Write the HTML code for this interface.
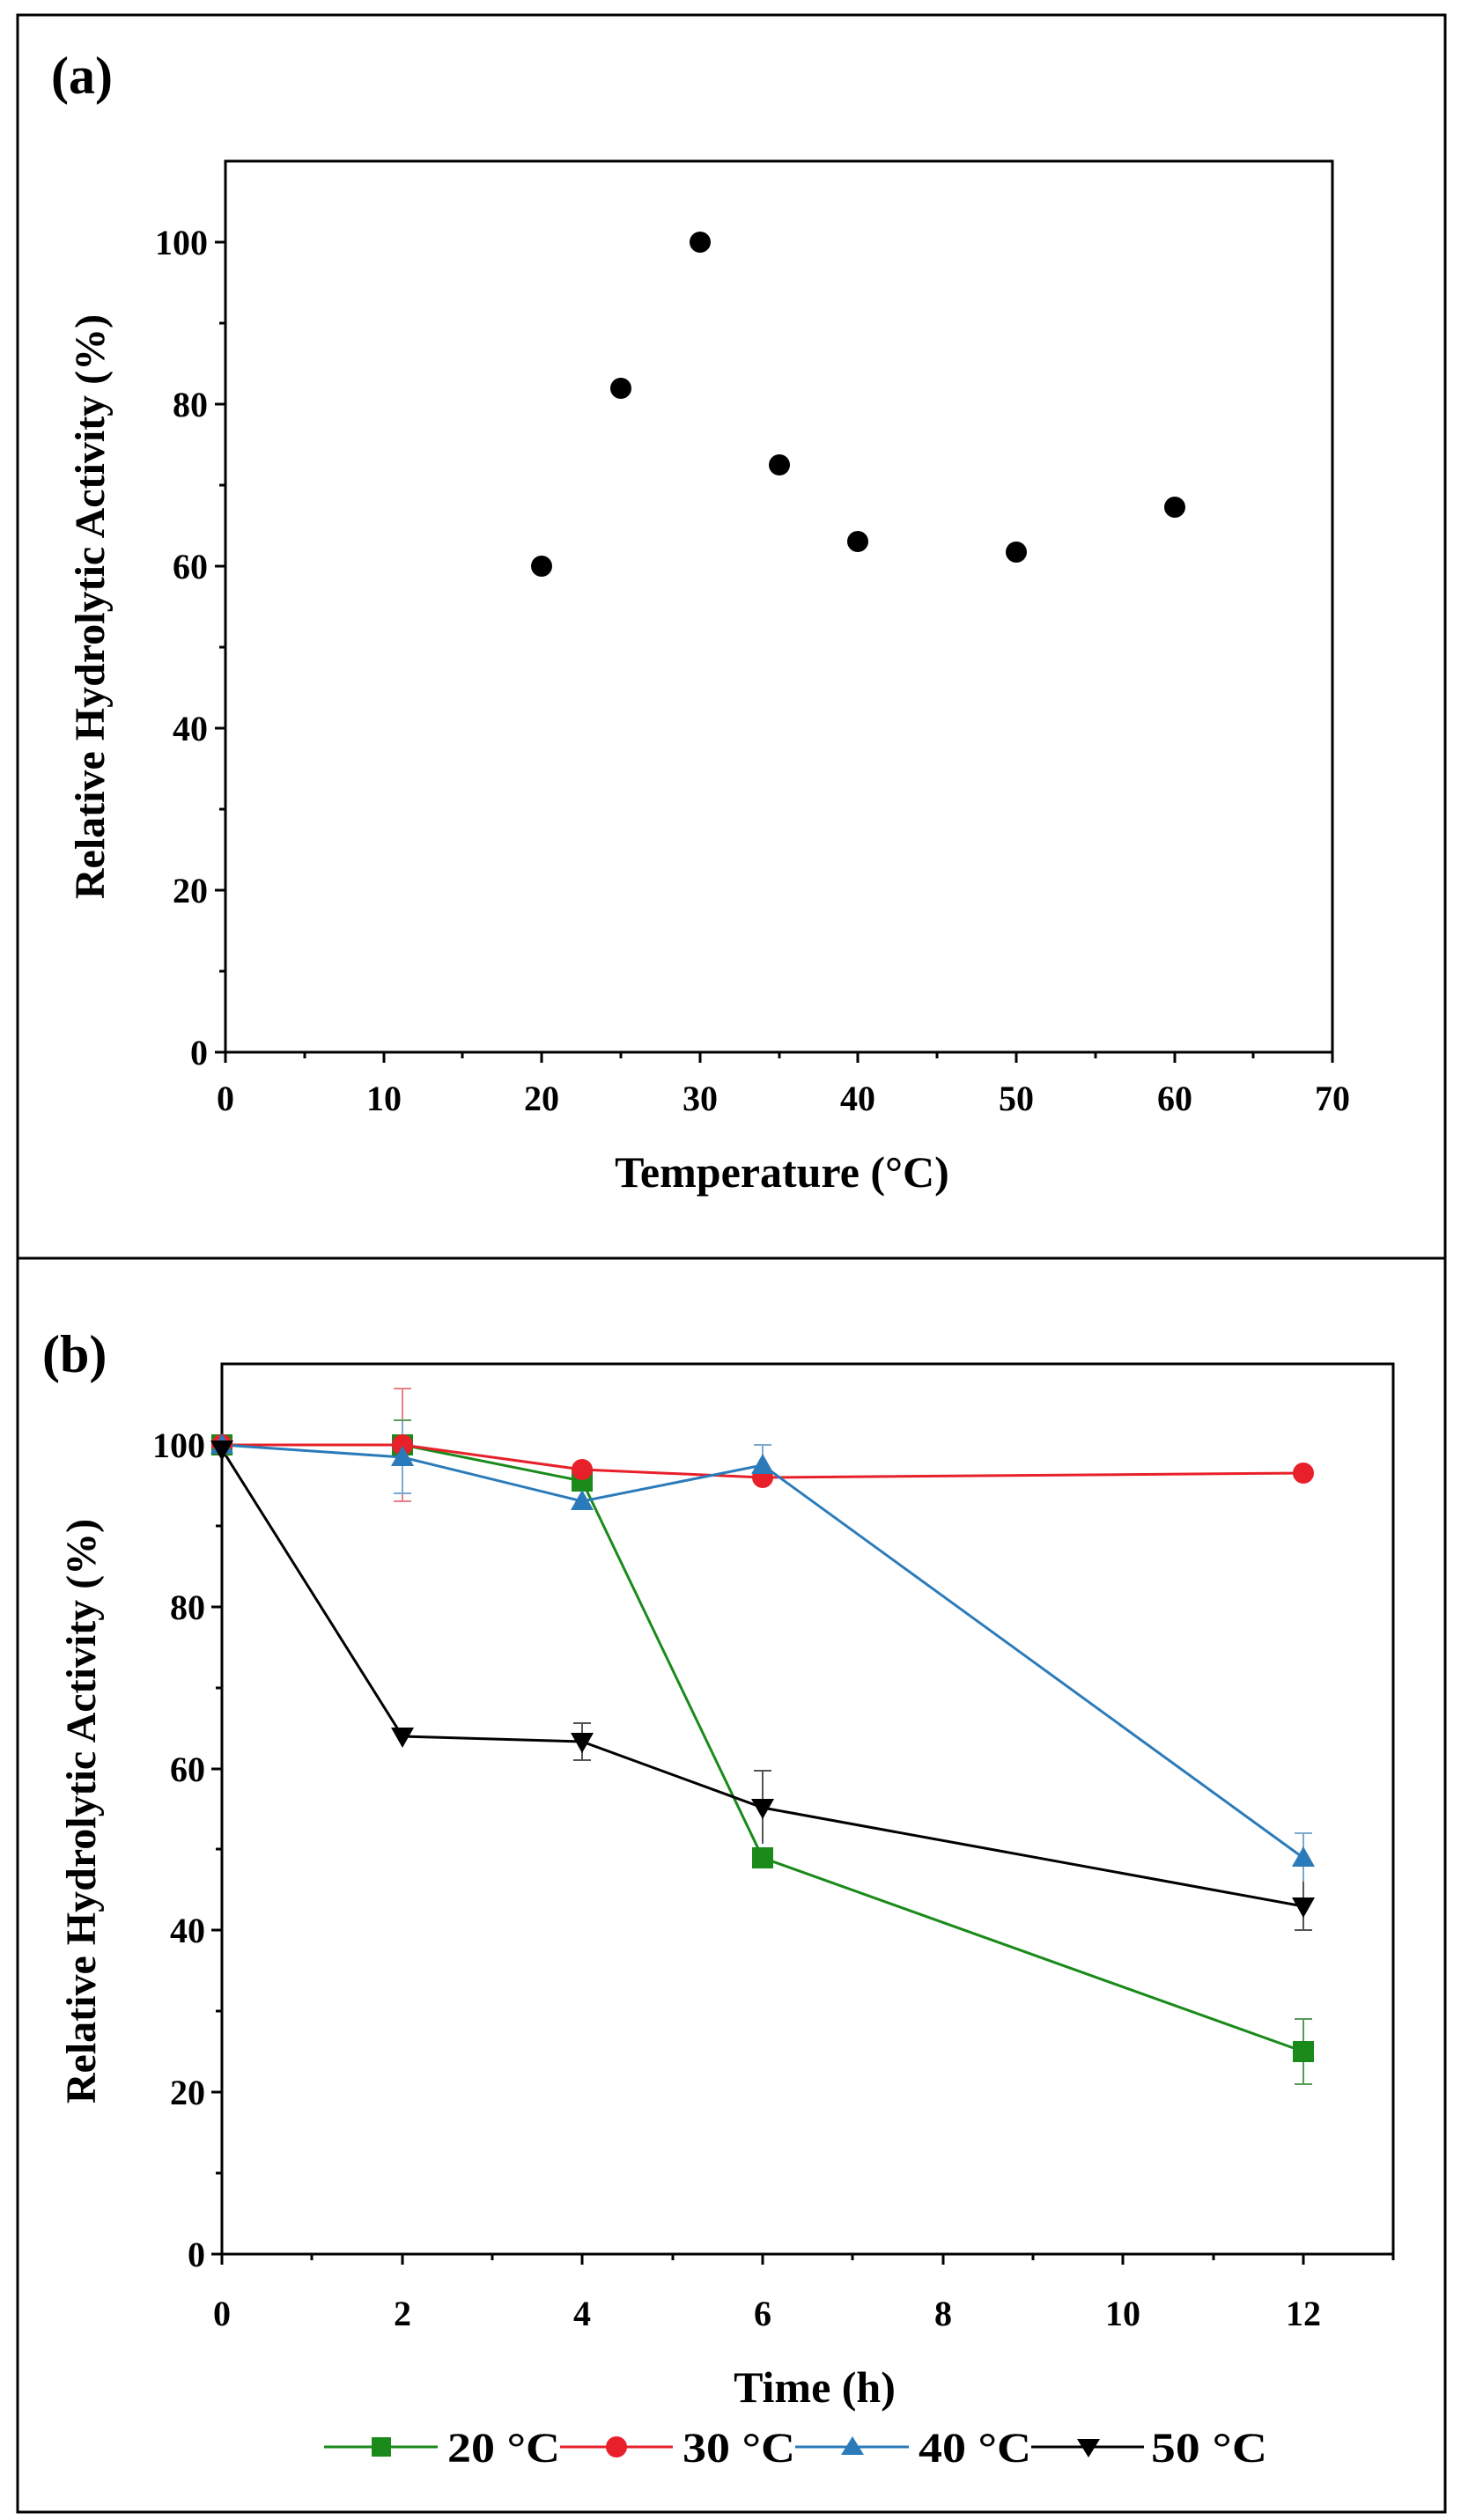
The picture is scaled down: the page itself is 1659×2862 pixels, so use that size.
<!DOCTYPE html>
<html><head><meta charset="utf-8"><style>
html,body{margin:0;padding:0;background:#fff;}
svg{display:block;}
text{font-family:"Liberation Serif",serif;font-weight:bold;fill:#000;}
</style></head><body>
<svg width="1659" height="2862" viewBox="0 0 1659 2862" xmlns="http://www.w3.org/2000/svg">
<rect x="0" y="0" width="1659" height="2862" fill="#fff"/>
<rect x="20" y="17" width="1621" height="2836" fill="none" stroke="#000" stroke-width="3"/>
<line x1="20" y1="1429" x2="1641" y2="1429" stroke="#000" stroke-width="3"/>

<!-- Panel a -->
<text x="58" y="106" font-size="60">(a)</text>
<rect x="256" y="183" width="1257" height="1012" fill="none" stroke="#000" stroke-width="3"/>
<g stroke="#000" stroke-width="3">
<line x1="256" y1="1195" x2="244" y2="1195"/><line x1="256" y1="1103" x2="249" y2="1103"/>
<line x1="256" y1="1011" x2="244" y2="1011"/><line x1="256" y1="919" x2="249" y2="919"/>
<line x1="256" y1="827" x2="244" y2="827"/><line x1="256" y1="735" x2="249" y2="735"/>
<line x1="256" y1="643" x2="244" y2="643"/><line x1="256" y1="551" x2="249" y2="551"/>
<line x1="256" y1="459" x2="244" y2="459"/><line x1="256" y1="367" x2="249" y2="367"/>
<line x1="256" y1="275" x2="244" y2="275"/>
<line x1="256" y1="1195" x2="256" y2="1207"/><line x1="346" y1="1195" x2="346" y2="1202"/>
<line x1="436" y1="1195" x2="436" y2="1207"/><line x1="525" y1="1195" x2="525" y2="1202"/>
<line x1="615" y1="1195" x2="615" y2="1207"/><line x1="705" y1="1195" x2="705" y2="1202"/>
<line x1="795" y1="1195" x2="795" y2="1207"/><line x1="885" y1="1195" x2="885" y2="1202"/>
<line x1="974" y1="1195" x2="974" y2="1207"/><line x1="1064" y1="1195" x2="1064" y2="1202"/>
<line x1="1154" y1="1195" x2="1154" y2="1207"/><line x1="1244" y1="1195" x2="1244" y2="1202"/>
<line x1="1334" y1="1195" x2="1334" y2="1207"/><line x1="1423" y1="1195" x2="1423" y2="1202"/>
<line x1="1513" y1="1195" x2="1513" y2="1207"/>
</g>
<g font-size="40" text-anchor="end">
<text x="236" y="1209">0</text><text x="236" y="1025">20</text><text x="236" y="841">40</text>
<text x="236" y="657">60</text><text x="236" y="473">80</text><text x="236" y="289">100</text>
</g>
<g font-size="40" text-anchor="middle">
<text x="256" y="1261">0</text><text x="436" y="1261">10</text><text x="615" y="1261">20</text>
<text x="795" y="1261">30</text><text x="974" y="1261">40</text><text x="1154" y="1261">50</text>
<text x="1334" y="1261">60</text><text x="1513" y="1261">70</text>
</g>
<text x="888" y="1348" font-size="50" text-anchor="middle">Temperature (°C)</text>
<text transform="translate(118,689) rotate(-90)" font-size="48" text-anchor="middle">Relative Hydrolytic Activity (%)</text>
<g fill="#000">
<circle cx="615" cy="643" r="12"/><circle cx="705" cy="441" r="12"/><circle cx="795" cy="275" r="12"/>
<circle cx="885" cy="528" r="12"/><circle cx="974" cy="615" r="12"/><circle cx="1154" cy="627" r="12"/>
<circle cx="1334" cy="576" r="12"/>
</g>

<!-- Panel b -->
<text x="48" y="1558" font-size="60">(b)</text>
<rect x="252" y="1549" width="1330" height="1011" fill="none" stroke="#000" stroke-width="3"/>
<g transform="translate(0,2)">
<g stroke="#000" stroke-width="3">
<line x1="252" y1="2558" x2="240" y2="2558"/><line x1="252" y1="2466" x2="245" y2="2466"/>
<line x1="252" y1="2374" x2="240" y2="2374"/><line x1="252" y1="2282" x2="245" y2="2282"/>
<line x1="252" y1="2190" x2="240" y2="2190"/><line x1="252" y1="2098" x2="245" y2="2098"/>
<line x1="252" y1="2007" x2="240" y2="2007"/><line x1="252" y1="1915" x2="245" y2="1915"/>
<line x1="252" y1="1823" x2="240" y2="1823"/><line x1="252" y1="1731" x2="245" y2="1731"/>
<line x1="252" y1="1639" x2="240" y2="1639"/>
<line x1="252" y1="2558" x2="252" y2="2570"/><line x1="354" y1="2558" x2="354" y2="2565"/>
<line x1="457" y1="2558" x2="457" y2="2570"/><line x1="559" y1="2558" x2="559" y2="2565"/>
<line x1="661" y1="2558" x2="661" y2="2570"/><line x1="764" y1="2558" x2="764" y2="2565"/>
<line x1="866" y1="2558" x2="866" y2="2570"/><line x1="968" y1="2558" x2="968" y2="2565"/>
<line x1="1071" y1="2558" x2="1071" y2="2570"/><line x1="1173" y1="2558" x2="1173" y2="2565"/>
<line x1="1275" y1="2558" x2="1275" y2="2570"/><line x1="1378" y1="2558" x2="1378" y2="2565"/>
<line x1="1480" y1="2558" x2="1480" y2="2570"/><line x1="1582" y1="2558" x2="1582" y2="2565"/>
</g>
<g font-size="40" text-anchor="end">
<text x="233" y="2572">0</text><text x="233" y="2388">20</text><text x="233" y="2204">40</text>
<text x="233" y="2021">60</text><text x="233" y="1837">80</text><text x="233" y="1653">100</text>
</g>
<g font-size="40" text-anchor="middle">
<text x="252" y="2639">0</text><text x="457" y="2639">2</text><text x="661" y="2639">4</text>
<text x="866" y="2639">6</text><text x="1071" y="2639">8</text><text x="1275" y="2639">10</text>
<text x="1480" y="2639">12</text>
</g>
<text x="925" y="2726" font-size="50" text-anchor="middle">Time (h)</text>
<text transform="translate(108,2055) rotate(-90)" font-size="48" text-anchor="middle">Relative Hydrolytic Activity (%)</text>

<g stroke-width="2">
<g stroke="#e8808a"><line x1="457" y1="1575" x2="457" y2="1703"/><line x1="447" y1="1575" x2="467" y2="1575"/><line x1="447" y1="1703" x2="467" y2="1703"/></g>
<g stroke="#5a9a5a"><line x1="457" y1="1611" x2="457" y2="1667"/><line x1="447" y1="1611" x2="467" y2="1611"/></g>
<g stroke="#7aaad0"><line x1="457" y1="1612" x2="457" y2="1694"/><line x1="447" y1="1694" x2="467" y2="1694"/>
<line x1="866" y1="1639" x2="866" y2="1685"/><line x1="856" y1="1639" x2="876" y2="1639"/>
<line x1="1480" y1="2080" x2="1480" y2="2135"/><line x1="1470" y1="2080" x2="1490" y2="2080"/></g>
<g stroke="#555"><line x1="661" y1="1955" x2="661" y2="1997"/><line x1="651" y1="1955" x2="671" y2="1955"/><line x1="651" y1="1997" x2="671" y2="1997"/>
<line x1="866" y1="2009" x2="866" y2="2092"/><line x1="856" y1="2009" x2="876" y2="2009"/>
<line x1="1480" y1="2135" x2="1480" y2="2190"/><line x1="1470" y1="2190" x2="1490" y2="2190"/></g>
<g stroke="#5a9a5a"><line x1="1480" y1="2291" x2="1480" y2="2365"/><line x1="1470" y1="2291" x2="1490" y2="2291"/><line x1="1470" y1="2365" x2="1490" y2="2365"/></g>
</g>

<polyline points="252,1639 457,1639 661,1680 866,2108 1480,2328" fill="none" stroke="#1a8a1a" stroke-width="3"/>
<polyline points="252,1639 457,1639 661,1667 866,1676 1480,1671" fill="none" stroke="#e8202a" stroke-width="3"/>
<polyline points="252,1639 457,1653 661,1703 866,1662 1480,2108" fill="none" stroke="#2b7bba" stroke-width="3"/>
<polyline points="252,1644 457,1970 661,1976 866,2051 1480,2163" fill="none" stroke="#000" stroke-width="3"/>

<g fill="#1a8a1a"><rect x="240" y="1627" width="24" height="24"/><rect x="445" y="1627" width="24" height="24"/><rect x="649" y="1668" width="24" height="24"/><rect x="854" y="2096" width="24" height="24"/><rect x="1468" y="2316" width="24" height="24"/></g>
<g fill="#e8202a"><circle cx="252" cy="1639" r="12"/><circle cx="457" cy="1639" r="12"/><circle cx="661" cy="1667" r="12"/><circle cx="866" cy="1676" r="12"/><circle cx="1480" cy="1671" r="12"/></g>
<g fill="#2b7bba"><polygon points="252,1626 265,1649 239,1649"/><polygon points="457,1640 470,1663 444,1663"/><polygon points="661,1690 674,1713 648,1713"/><polygon points="866,1649 879,1672 853,1672"/><polygon points="1480,2095 1493,2118 1467,2118"/></g>
<g fill="#000"><polygon points="239,1634 265,1634 252,1657"/><polygon points="444,1960 470,1960 457,1983"/><polygon points="648,1966 674,1966 661,1989"/><polygon points="853,2041 879,2041 866,2064"/><polygon points="1467,2153 1493,2153 1480,2176"/></g>
</g>

<!-- legend -->
<line x1="368" y1="2779" x2="497" y2="2779" stroke="#1a8a1a" stroke-width="3"/><rect x="422" y="2768" width="22" height="22" fill="#1a8a1a"/>
<text x="508" y="2796" font-size="48" textLength="128" lengthAdjust="spacingAndGlyphs">20 °C</text>
<line x1="636" y1="2779" x2="764" y2="2779" stroke="#e8202a" stroke-width="3"/><circle cx="700" cy="2779" r="12" fill="#e8202a"/>
<text x="775" y="2796" font-size="48" textLength="128" lengthAdjust="spacingAndGlyphs">30 °C</text>
<line x1="903" y1="2779" x2="1032" y2="2779" stroke="#2b7bba" stroke-width="3"/><polygon points="968,2767 981,2788 955,2788" fill="#2b7bba"/>
<text x="1043" y="2796" font-size="48" textLength="128" lengthAdjust="spacingAndGlyphs">40 °C</text>
<line x1="1171" y1="2779" x2="1299" y2="2779" stroke="#000" stroke-width="3"/><polygon points="1223,2770 1249,2770 1236,2791" fill="#000"/>
<text x="1307" y="2796" font-size="48" textLength="132" lengthAdjust="spacingAndGlyphs">50 °C</text>
</svg>
</body></html>
